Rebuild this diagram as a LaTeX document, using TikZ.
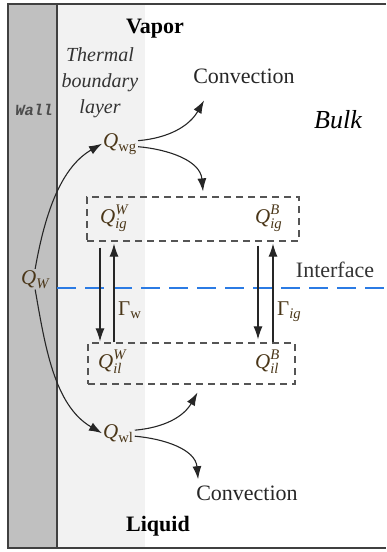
\documentclass[tikz,border=0pt]{standalone}
\usepackage{amsmath}
\usepackage{fontspec}
\setmainfont{Liberation Serif}
\newfontfamily\wallfont{Liberation Mono}
\usetikzlibrary{arrows.meta}
\usetikzlibrary{calc}
\definecolor{wallgray}{HTML}{C0C0C0}
\definecolor{layergray}{HTML}{F2F2F2}
\definecolor{framegray}{HTML}{404040}
\definecolor{boxgray}{HTML}{555555}
\definecolor{ifblue}{HTML}{2B7BE4}
\definecolor{qcol}{HTML}{4A3618}

\begin{document}
\begin{tikzpicture}[x=1pt,y=-1pt,
    lbl/.style={font=\fontsize{22}{26}\selectfont,inner sep=0pt},
    qlbl/.style={font=\fontsize{21}{25}\selectfont,text=qcol,inner sep=1pt},
    dbox/.style={draw=boxgray,line width=1.2pt,dash pattern=on 7pt off 5pt,inner sep=0pt},
    arr/.style={-{Latex[length=13pt,width=9pt]},line width=1.1pt,draw=black!85}]

    \useasboundingbox (0,0) rectangle (386,552);
    \fill[wallgray] (8,4) rectangle (57,548);
    \fill[layergray] (57,4) rectangle (145,548);
    \draw[framegray,line width=1.2pt] (57,4) -- (57,548);
    \draw[framegray,line width=1.8pt] (386,4) -- (8,4) -- (8,548) -- (386,548);

    \coordinate (ifl) at (57,288);
    \coordinate (ifr) at (386,288);
    \draw[ifblue,line width=2pt,dash pattern=on 19pt off 9pt] (ifl) -- (ifr);

    \node[lbl,anchor=base,font=\fontsize{22}{26}\selectfont\bfseries] (vapor) at (155,33) {Vapor};
    \node[lbl,anchor=base,font=\fontsize{22}{26}\selectfont\bfseries] (liquid) at (158,531) {Liquid};
    \node[lbl,anchor=base,font=\fontsize{15.5}{18}\selectfont\wallfont\bfseries\itshape,text=black!70] (wall) at (34,115) {Wall};
    \node[lbl,align=center,font=\fontsize{20}{26}\selectfont\itshape,text=black!80] (tbl) at (100,83) {Thermal\\boundary\\layer};
    \node[lbl,anchor=base,font=\fontsize{26}{30}\selectfont\itshape] (bulk) at (338,128) {Bulk};
    \node[lbl,anchor=base,text=black!80] (iface) at (335,277) {Interface};
    \node[lbl,anchor=base,text=black!85] (convtop) at (244,83) {Convection};
    \node[lbl,anchor=base,text=black!85] (convbot) at (247,500) {Convection};

    \node[dbox,minimum width=212pt,minimum height=44pt] (upbox) at (193,219) {};
    \node[dbox,minimum width=207pt,minimum height=41pt] (lowbox) at (191.5,363.5) {};

    \node[qlbl,anchor=base west] (qW) at (20,284) {$\textit{Q}_{\textit{W}}$};
    \node[qlbl,anchor=base west] (qwg) at (102,147) {$\textit{Q}_{\textrm{wg}}$};
    \node[qlbl,anchor=base west] (qwl) at (102,438) {$\textit{Q}_{\textrm{wl}}$};
    \node[qlbl,anchor=base west] (qigW) at (99,223) {$\textit{Q}^{\textit{W}}_{\textit{ig}}$};
    \node[qlbl,anchor=base west] (qigB) at (254,223) {$\textit{Q}^{\textit{B}}_{\textit{ig}}$};
    \node[qlbl,anchor=base west] (qilW) at (97,368) {$\textit{Q}^{\textit{W}}_{\textit{il}}$};
    \node[qlbl,anchor=base west] (qilB) at (254,368) {$\textit{Q}^{\textit{B}}_{\textit{il}}$};
    \node[qlbl,anchor=base west] (gw) at (117,315) {$\text{Γ}_{\textrm{w}}$};
    \node[qlbl,anchor=base west] (gig) at (276,315) {$\text{Γ}_{\textit{ig}}$};

    \draw[arr] (qW.north) to[out=80,in=210,looseness=0.9] (qwg.west);
    \draw[arr] (qW.south) to[out=-80,in=150,looseness=0.9] (qwl.west);
    \draw[arr] ([yshift=3pt]qwg.east) to[out=5,in=240] ($(convtop.south west)+(11,17)$);
    \draw[arr] ([yshift=-3pt]qwg.east) to[out=-5,in=95] ($(upbox.north)+(10,-5)$);
    \draw[arr] ([yshift=3pt]qwl.east) to[out=5,in=240] ($(lowbox.south)+(6,8)$);
    \draw[arr] ([yshift=-3pt]qwl.east) to[out=-5,in=95] ($(convbot.north west)+(2,-6)$);

    \draw[arr] ($(upbox.south)+(-93,6)$) -- ($(lowbox.north)+(-91.5,-1)$);
    \draw[arr] ($(lowbox.north)+(-77.5,0)$) -- ($(upbox.south)+(-79,2)$);
    \draw[arr] ($(upbox.south)+(65,4)$) -- ($(lowbox.north)+(66.5,-3)$);
    \draw[arr] ($(lowbox.north)+(81.5,0)$) -- ($(upbox.south)+(80,2)$);

\end{tikzpicture}
\end{document}
